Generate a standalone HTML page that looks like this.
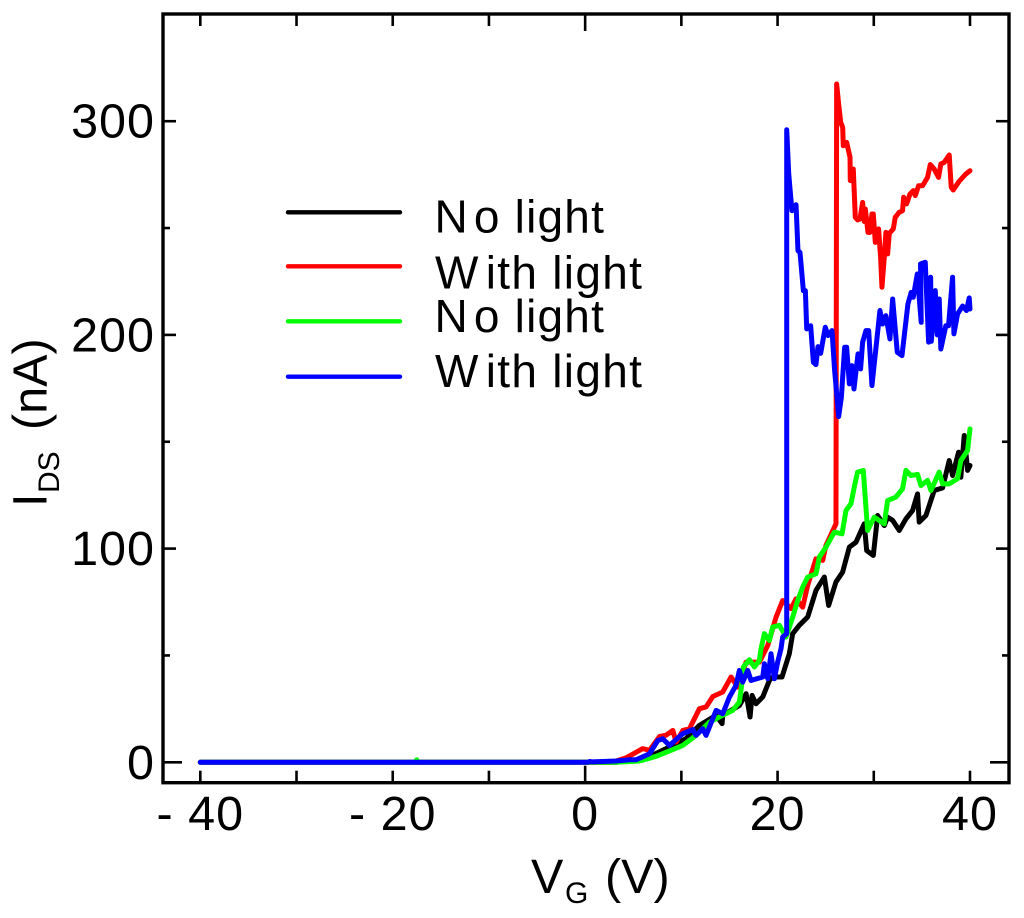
<!DOCTYPE html>
<html lang="en">
<head>
<meta charset="utf-8">
<title>IDS vs VG</title>
<style>
html,body{margin:0;padding:0;background:#fff}
svg{display:block}
text{font-family:"Liberation Sans",Arial,sans-serif;fill:#000}
</style>
</head>
<body>
<svg id="chart" xmlns="http://www.w3.org/2000/svg" width="1024" height="918" viewBox="0 0 1024 918">
  <rect x="0" y="0" width="1024" height="918" fill="#fff"/>
  <g id="ticks"></g>
  <g id="series"></g>
  <rect x="163" y="14" width="846" height="768.7" fill="none" stroke="#000" stroke-width="3.4"/>
  <g id="ticklabels" font-size="48.5" letter-spacing="1"></g>

  <text x="531" y="893" font-size="48.5">V</text>
  <text x="565" y="903" font-size="30">G</text>
  <text x="605" y="893" font-size="48.5">(V)</text>

  <text transform="translate(46.7,507) rotate(-90)" font-size="48.5">I</text>
  <text transform="translate(59,493) rotate(-90)" font-size="30">DS</text>
  <text transform="translate(46.7,430) rotate(-90)" font-size="48.5">(nA)</text>

  <g>
    <line x1="288" x2="400" y1="212.3" y2="212.3" stroke="#000" stroke-width="4.4" stroke-linecap="round"/>
    <text x="434.5" y="232.7" font-size="46" letter-spacing="1.2">N<tspan dx="5">o light</tspan></text>
    <line x1="288" x2="400" y1="266.3" y2="266.3" stroke="#f00" stroke-width="4.4" stroke-linecap="round"/>
    <text x="435" y="288.3" font-size="46" letter-spacing="1.3">W<tspan dx="6">ith light</tspan></text>
    <line x1="288" x2="400" y1="321.3" y2="321.3" stroke="#0f0" stroke-width="4.4" stroke-linecap="round"/>
    <text x="434.5" y="332" font-size="46" letter-spacing="1.2">N<tspan dx="5">o light</tspan></text>
    <line x1="288" x2="400" y1="376.7" y2="376.7" stroke="#00f" stroke-width="4.4" stroke-linecap="round"/>
    <text x="435" y="387" font-size="46" letter-spacing="1.3">W<tspan dx="6">ith light</tspan></text>
  </g>
</svg>
<script>
const xTickValues = [-40, -30, -20, -10, 0, 10, 20, 30, 40];
const xTickLabels = ['- 40', '- 20', '0', '20', '40'];
const xLabelValues = [-40, -20, 0, 20, 40];
const yTickValues = [0, 50, 100, 150, 200, 250, 300];
const yLabelValues = [0, 100, 200, 300];
const yTickLabels = ['0', '100', '200', '300'];

const blackV = [-40,3.23,5.99,8.42,10.49,11.88,13.61,14.23,14.30,16.03,16.73,17.14,17.35,17.76,18.46,19.15,19.49,20.46,21.22,21.57,22.26,23.13,23.99,24.86,25.31,26.07,26.76,27.46,28.15,29.01,29.26,29.95,30.40,31.09,31.44,31.96,32.65,33.34,34.03,34.55,34.72,35.42,36.28,37.15,37.84,38.19,38.81,39.05,39.40,39.75,40];
const blackI = [0,0,1.2,6.4,11.1,17.3,22.0,18.1,22.0,26.6,32.1,21.2,31.3,27.4,30.6,38.3,39.9,39.9,50.8,60.2,64.1,68.0,80.4,86.7,73.4,84.4,89.0,100.7,103.0,111.6,99.1,96.8,115.5,110.8,114.7,113.2,108.5,113.9,117.8,125.6,112.4,115.5,127.2,128.4,141.2,134.2,145.1,133.4,152.9,136.6,138.9];

const redV = [-40,2.8,3.23,4.26,5.99,6.69,7.73,8.42,9.11,9.46,10.15,10.84,11.88,12.57,13.27,14.30,15.17,15.86,16.73,18.11,18.98,19.84,20.53,21.40,21.92,22.61,23.13,23.99,24.69,25.03,26.07,26.14,26.35,26.56,26.77,26.83,27.18,27.53,27.56,27.87,28.08,28.32,28.56,28.84,29.01,29.12,29.40,29.60,29.81,29.95,30.16,30.50,30.71,30.85,31.09,31.26,31.44,31.61,32.03,32.23,32.65,32.99,33.10,33.41,33.76,34.10,34.31,34.66,35.07,35.59,35.87,36.28,36.73,36.97,37.32,37.84,38.05,38.26,38.88,39.57,40];
const redI = [0,0,0.6,2.1,6.4,5.6,12.1,12.7,14.9,9.5,14.9,15.7,25.1,25.9,30.8,32.9,39.9,35.2,46.9,46.9,54.7,67.9,75.7,71.9,76.5,72.6,82.8,95.2,94.5,101.5,111.6,317.4,308.0,299.5,297.1,288.5,290.1,283.1,272.2,277.6,255.0,253.8,254.2,262.0,253.1,258.9,248.0,248.0,256.6,256.6,243.3,249.6,236.3,222.3,236.3,248.0,237.9,247.5,249.6,255.0,257.4,258.1,264.4,261.3,265.9,267.5,265.2,269.8,269.8,273.7,279.7,277.6,273.7,280.0,280.7,284.2,269.1,267.8,271.9,275.3,276.8];

const greenV = [-40,-17.6,-17.5,-17.4,3.23,5.65,7.38,8.77,10.15,11.53,12.92,14.30,15.34,16.03,16.31,16.45,17.07,17.59,18.11,18.28,18.63,19.15,19.49,20.19,20.88,21.57,22.09,22.61,23.13,23.99,24.34,25.03,25.90,26.70,27.11,27.63,27.97,28.32,28.91,29.36,30.05,31.09,31.44,32.30,32.99,33.34,33.86,34.55,34.90,35.59,35.94,36.80,37.15,37.84,38.71,39.05,39.75,40];
const greenI = [0,0,1.2,0,0,0.6,2.8,5.3,7.9,12.6,18.8,22.0,24.3,28.2,37.5,44.6,48.0,44.6,47.7,53.2,60.2,57.0,63.3,64.1,58.6,67.9,75.7,82.0,86.7,88.2,96.0,100.7,107.7,106.9,117.8,121.0,128.8,135.8,136.6,108.5,114.7,111.6,122.5,124.1,128.0,136.6,134.2,134.7,129.5,131.9,127.2,135.8,130.3,130.3,132.7,141.2,145.9,156.0];

const blueV = [-40,0.30,0.46,0.7,3.23,4.61,5.30,6.69,7.55,8.07,8.77,10.15,11.19,11.53,12.22,12.57,13.61,14.30,14.99,15.68,16.03,16.38,16.90,17.24,18.46,18.63,18.98,19.32,19.67,20.01,20.36,20.53,20.95,20.95,21.16,21.37,21.50,21.92,22.12,22.33,22.47,22.68,22.89,23.03,23.44,23.72,23.99,24.20,24.48,24.96,25.24,25.66,25.93,26.35,26.63,26.97,27.18,27.46,27.73,27.94,28.36,28.63,28.84,29.19,29.47,29.81,30.16,30.64,30.92,31.26,31.68,31.96,32.44,32.93,33.55,33.89,34.10,34.52,34.93,34.86,35.35,35.70,35.91,35.98,36.39,36.60,36.80,36.97,37.49,37.77,38.19,38.33,38.71,39.23,39.64,39.92,40];
const blueI = [0,0,0.4,0.2,0.6,1.2,1.2,4.0,10.2,11.0,7.9,13.4,15.3,12.6,15.7,12.6,24.3,22.7,30.5,36.0,43.0,37.5,43.0,38.3,39.9,46.1,39.1,50.8,39.1,46.9,53.2,58.6,60.2,296.0,275.3,264.4,258.1,260.9,239.4,238.6,231.6,220.7,220.7,202.8,204.3,187.2,186.1,194.5,191.4,203.6,199.7,202.0,183.3,161.8,170.8,194.2,194.2,177.1,185.6,174.7,191.1,184.1,196.6,202.0,202.0,176.3,191.1,211.4,205.1,209.0,198.1,216.8,191.9,190.3,214.5,219.9,217.6,228.5,205.9,233.2,234.0,196.6,227.0,197.0,220.7,200.0,216.8,193.4,204.3,204.3,227.0,200.5,209.8,213.5,211.4,217.3,212.1];

const NS = 'http://www.w3.org/2000/svg';
function xScale(v) { return 585.15 + 9.621 * v; }
function yScale(i) { return 762.3 - 2.137 * i; }

const tickGroup = document.getElementById('ticks');
function addTick(x1, y1, x2, y2, width) {
  const t = document.createElementNS(NS, 'line');
  
  
  t.setAttribute('x1', x1);
  t.setAttribute('y1', y1);
  t.setAttribute('x2', x2);
  t.setAttribute('y2', y2);
  t.setAttribute('stroke', '#000');
  t.setAttribute('stroke-width', width);
  tickGroup.appendChild(t);
}
xTickValues.forEach(function (v) {
  const len = v === 0 ? 17 : 12;
  const x = xScale(v);
  addTick(x, 782.7, x, 782.7 - len, 2.6);
  addTick(x, 14, x, 14 + len, 2.6);
});
yTickValues.forEach(function (i) {
  const len = i === 0 ? 19 : (i % 100 === 0 ? 13 : 7);
  const y = yScale(i);
  addTick(163, y, 163 + len, y, 2.6);
  addTick(1009, y, 1009 - len, y, 2.6);
});

const labelGroup = document.getElementById('ticklabels');
function addLabel(x, y, anchor, str, name) {
  const t = document.createElementNS(NS, 'text');
  
  
  t.setAttribute('x', x);
  t.setAttribute('y', y);
  t.setAttribute('text-anchor', anchor);
  t.textContent = str;
  labelGroup.appendChild(t);
}
xLabelValues.forEach(function (v, k) {
  addLabel(xScale(v), 830, 'middle', xTickLabels[k], 'x-tick-label');
});
yLabelValues.forEach(function (i, k) {
  addLabel(155, yScale(i) + 16.5, 'end', yTickLabels[k], 'y-tick-label');
});

const seriesGroup = document.getElementById('series');
function drawSeries(vs, is, color, name) {
  const p = document.createElementNS(NS, 'polyline');
  
  
  p.setAttribute('points', vs.map(function (v, k) {
    return xScale(v).toFixed(2) + ',' + yScale(is[k]).toFixed(2);
  }).join(' '));
  p.setAttribute('fill', 'none');
  p.setAttribute('stroke', color);
  p.setAttribute('stroke-width', '5');
  p.setAttribute('stroke-linejoin', 'round');
  p.setAttribute('stroke-linecap', 'round');
  seriesGroup.appendChild(p);
}
drawSeries(blackV, blackI, '#000', 'series-no-light-black');
drawSeries(redV, redI, '#f00', 'series-with-light-red');
drawSeries(greenV, greenI, '#0f0', 'series-no-light-green');
drawSeries(blueV, blueI, '#00f', 'series-with-light-blue');
</script>
</body>
</html>
